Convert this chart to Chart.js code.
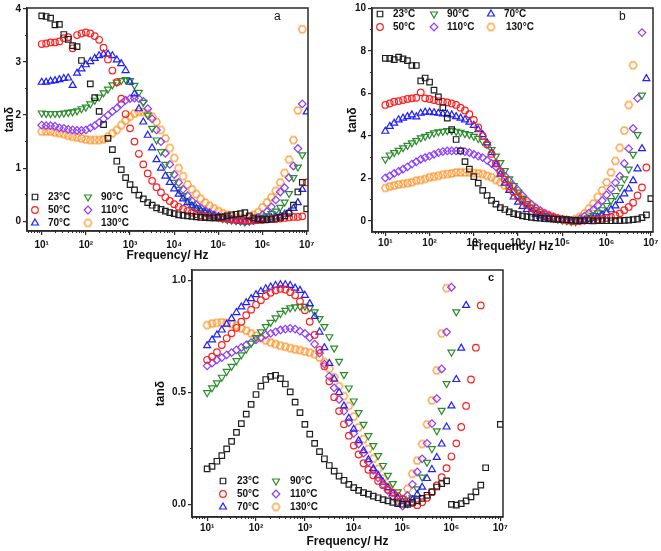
<!DOCTYPE html>
<html>
<head>
<meta charset="utf-8">
<script src="https://cdn.jsdelivr.net/npm/chart.js@4.4.1/dist/chart.umd.min.js"></script>
<style>
  html, body { margin: 0; padding: 0; background: #fff; }
  #wrap { position: relative; width: 661px; height: 551px; overflow: hidden; background: #fff; }
  #wrap canvas { position: absolute; }
</style>
</head>
<body>
<div id="wrap">
  <canvas id="chartA" width="320" height="275" style="left:0;top:0"></canvas>
  <canvas id="chartB" width="331" height="275" style="left:330px;top:0"></canvas>
  <canvas id="chartC" width="380" height="289" style="left:140px;top:262px"></canvas>
</div>
<script>
/* ===== data ===== */
const freq = [
  1.000e1, 1.259e1, 1.585e1, 1.995e1, 2.512e1, 3.162e1, 3.981e1, 5.012e1, 6.310e1, 7.943e1,
  1.000e2, 1.259e2, 1.585e2, 1.995e2, 2.512e2, 3.162e2, 3.981e2, 5.012e2, 6.310e2, 7.943e2,
  1.000e3, 1.259e3, 1.585e3, 1.995e3, 2.512e3, 3.162e3, 3.981e3, 5.012e3, 6.310e3, 7.943e3,
  1.000e4, 1.259e4, 1.585e4, 1.995e4, 2.512e4, 3.162e4, 3.981e4, 5.012e4, 6.310e4, 7.943e4,
  1.000e5, 1.259e5, 1.585e5, 1.995e5, 2.512e5, 3.162e5, 3.981e5, 5.012e5, 6.310e5, 7.943e5,
  1.000e6, 1.259e6, 1.585e6, 1.995e6, 2.512e6, 3.162e6, 3.981e6, 5.012e6, 6.310e6, 7.943e6,
  1.000e7
];
const temps = ['23°C', '50°C', '70°C', '90°C', '110°C', '130°C'];

// panel a
const tanA23 = [3.87,3.86,3.83,3.70,3.71,3.52,3.43,3.31,3.29,3.03, null,2.59,2.33,2.07,1.82,1.56,1.35,1.13,0.97,0.82,
  0.69,0.59,0.49,0.42,0.35,0.30,0.25,0.22,0.19,0.16, 0.14,0.12,0.11,0.10,0.09,0.08,0.07,0.065,0.06,0.06,
  0.07,0.08,0.10,0.12,0.13,0.14,0.16,0.10,0.06,0.04, 0.03,0.03,0.04,0.05,0.07,0.10,0.15,0.30,0.55,0.73, 0.23];
const tanA50 = [3.34,3.35,3.37,3.37,3.39,3.45,3.47,3.26,3.51,3.54, 3.56,3.54,3.49,3.42,3.27,3.05,2.84,2.62,2.31,2.02,
  1.75,1.50,1.27,1.07,0.90,0.76,0.64,0.54,0.45,0.38, 0.32,0.27,0.23,0.19,0.16,0.13,0.11,0.09,0.08,0.07,
  0.06,0.05,0.04,0.03,0.03,0.02,0.02,0.01,0.01,0.02, 0.02,0.03,0.04,0.04,0.05,0.06,0.07,0.08,0.08,0.09, 0.73];
const tanA70 = [2.62,2.62,2.64,2.65,2.67,2.69,2.70,2.56,2.79,2.87, 2.95,3.01,3.07,3.12,3.15,3.15,3.12,3.04,2.97,2.84,
  2.62,2.40,2.12,1.87,1.62,1.38,1.16,1.00,0.85,0.73, 0.61,0.51,0.42,0.35,0.29,0.24,0.20,0.16,0.13,0.10,
  0.08,0.06,0.04,0.02,0.01,0.0,-0.01,-0.01,0.0,0.01, 0.03,0.04,0.06,0.08,0.10,0.13,0.17,0.24,0.35,0.60, 2.06];
const tanA90 = [2.04,2.03,2.03,2.03,2.03,2.04,2.05,2.06,2.08,2.12, 2.15,2.21,2.28,2.34,2.42,2.49,2.57,2.62,2.65,2.67,
  2.65,2.56,2.43,2.24,2.00,1.75,1.53,1.31,1.07,0.88, 0.73,0.60,0.48,0.38,0.31,0.25,0.20,0.16,0.12,0.09,
  0.07,0.05,0.03,0.02,0.01,0.0,-0.01,0.0,0.02,0.04, 0.07,0.10,0.14,0.19,0.26,0.36,0.52,0.82,1.02,1.25, null];
const tanA110 = [1.81,1.80,1.80,1.79,1.76,1.75,1.73,1.72,1.71,1.71, 1.72,1.76,1.80,1.86,1.93,2.00,2.07,2.13,2.21,2.28,
  2.31,2.32,2.31,2.26,2.12,1.93,1.72,1.50,1.28,1.07, 0.88,0.73,0.60,0.48,0.38,0.31,0.25,0.20,0.16,0.12,
  0.09,0.07,0.05,0.03,0.01,0.0,-0.02,0.0,0.03,0.07, 0.12,0.18,0.27,0.40,0.55,0.63,0.82,1.04,1.37,2.21, null];
const tanA130 = [1.69,1.69,1.69,1.67,1.66,1.64,1.61,1.59,1.58,1.56, 1.54,1.53,1.53,1.53,1.54,1.59,1.66,1.72,1.81,1.90,
  1.97,2.03,2.06,2.06,2.03,1.97,1.87,1.72,1.56,1.38, 1.19,1.00,0.85,0.69,0.60,0.51,0.42,0.35,0.29,0.24,
  0.19,0.15,0.12,0.09,0.07,0.05,0.04,0.07,0.12,0.17, 0.26,0.35,0.45,0.57,0.73,0.91,1.16,1.53,2.09,3.62, null];

// panel b
const tanB23 = [7.66,7.66,7.60,7.71,7.63,7.55,7.32,7.32,6.59,6.73, 6.54,6.16,5.84,5.33,4.84,4.30,3.83,3.29,2.79,2.43,
  2.08,1.77,1.43,1.19,0.96,0.78,0.62,0.53,0.42,0.34, 0.29,0.23,0.19,0.16,0.14,0.12,0.10,0.09,0.08,0.07,
  0.06,0.05,0.03,0.02,0.01,0.0,0.0,-0.01,0.0,0.0, 0.0,0.0,0.01,0.01,0.02,0.03,0.05,0.08,0.15,0.28, 1.04];
const tanB50 = [5.46,5.53,5.61,5.64,5.69,5.74,5.77,5.80,6.05,5.77, 5.74,5.69,5.64,5.61,5.58,5.53,5.46,5.33,5.20,5.02,
  4.75,4.40,4.00,3.60,3.15,2.70,2.30,1.95,1.62,1.35, 1.12,0.92,0.75,0.60,0.47,0.37,0.28,0.21,0.15,0.10,
  0.06,0.03,0.01,-0.02,0.0,0.01,0.02,0.04,0.06,0.09, 0.13,0.18,0.25,0.35,0.50,0.65,0.85,1.19,1.57,2.51, null];
const tanB70 = [4.22,4.45,4.60,4.76,4.84,4.91,4.99,4.90,5.07,5.12, 5.12,5.10,5.07,5.04,5.02,4.99,4.91,4.84,4.76,4.65,
  4.50,4.29,4.06,3.67,3.21,2.67,2.20,1.77,1.43,1.12, 0.88,0.68,0.53,0.40,0.30,0.23,0.17,0.12,0.08,0.05,
  0.03,0.01,-0.02,-0.05,-0.02,0.02,0.06,0.11,0.18,0.27, 0.38,0.52,0.70,0.96,1.27,1.50,1.89,2.45,3.40,6.70, null];
const tanB90 = [2.90,3.10,3.21,3.32,3.44,3.55,3.67,3.78,3.91,3.98, 4.06,4.14,4.19,4.22,4.25,4.25,4.22,4.17,4.11,4.06,
  3.98,3.88,3.75,3.60,3.36,3.05,2.74,2.36,1.97,1.66, 1.35,1.04,0.81,0.62,0.46,0.34,0.25,0.17,0.11,0.07,
  0.03,0.0,-0.03,-0.05,0.0,0.06,0.14,0.24,0.37,0.52, 0.72,0.95,1.19,1.58,1.97,2.43,3.13,4.06,5.92,null, null];
const tanB110 = [2.02,2.12,2.23,2.33,2.43,2.54,2.67,2.78,2.90,2.98, 3.05,3.13,3.21,3.26,3.29,3.29,3.29,3.29,3.26,3.21,
  3.13,3.05,2.98,2.85,2.70,2.54,2.36,2.12,1.89,1.66, 1.43,1.19,0.96,0.78,0.62,0.48,0.36,0.26,0.18,0.11,
  0.06,0.02,-0.02,0.0,0.10,0.22,0.36,0.52,0.72,0.95, 1.22,1.50,1.80,2.10,2.70,3.40,4.35,5.77,8.87,null, null];
const tanB130 = [1.55,1.61,1.66,1.71,1.74,1.77,1.81,1.89,1.92,1.97, 2.05,2.08,2.12,2.17,2.20,2.23,2.28,2.28,2.28,2.28,
  2.25,2.23,2.20,2.12,2.05,1.92,1.81,1.66,1.53,1.38, 1.19,1.04,0.88,0.73,0.57,0.45,0.34,0.26,0.19,0.11,
  0.07,0.03,0.0,0.08,0.19,0.34,0.57,0.81,1.12,1.43, 1.81,2.28,2.82,3.44,4.25,5.46,7.33,null,null,null, null];

// panel c
const tanC23 = [0.159,0.170,0.193,0.218,0.248,0.282,0.322,0.361,0.403,0.447, 0.491,0.528,0.558,0.572,0.577,0.562,0.538,0.503,0.457,0.410,
  0.358,0.314,0.273,0.236,0.204,0.174,0.149,0.127,0.108,0.090, 0.075,0.063,0.053,0.046,0.037,0.030,0.022,0.016,0.009,0.004,
  0.001,0.000,0.009,0.016,0.027,0.041,0.056,0.078,0.093,0.105, 0.000,-0.003,0.004,0.016,0.034,0.056,0.086,0.164,null,null, 0.358];
const tanC50 = [0.646,0.660,0.680,0.712,0.742,0.764,0.789,0.816,0.845,0.870, 0.892,0.912,0.931,0.945,0.956,0.963,0.960,0.948,0.934,0.907,
  0.867,0.816,0.757,0.690,0.617,0.550,0.479,0.417,0.358,0.307, 0.263,0.223,0.184,0.155,0.130,0.105,0.086,0.066,0.052,0.037,
  0.025,0.015,0.006,-0.003,0.010,0.030,0.055,0.085,0.122,0.162, 0.214,0.273,0.346,0.440,0.558,0.700,0.889,null,null,null, null];
const tanC70 = [0.709,0.735,0.757,0.779,0.805,0.830,0.857,0.882,0.901,0.919, 0.937,0.951,0.963,0.971,0.978,0.981,0.981,0.978,0.966,0.956,
  0.934,0.897,0.840,0.770,0.700,0.630,0.560,0.500,0.440,0.385, 0.336,0.285,0.240,0.200,0.160,0.130,0.100,0.075,0.050,0.030,
  0.012,0.005,0.020,0.045,0.077,0.116,0.156,0.210,0.270,0.346, 0.440,0.558,0.698,0.889,null,null,null,null,null,null, null];
const tanC90 = [0.499,0.521,0.543,0.568,0.594,0.617,0.642,0.668,0.693,0.720, 0.745,0.771,0.794,0.813,0.833,0.853,0.867,0.878,0.882,0.885,
  0.885,0.878,0.860,0.830,0.794,0.749,0.698,0.639,0.580,0.520, 0.462,0.410,0.358,0.307,0.263,0.218,0.174,0.130,0.093,0.056,
  0.027,0.004,0.030,0.070,0.122,0.188,0.249,0.329,0.420,0.540, 0.680,0.860,null,null,null,null,null,null,null,null, null];
const tanC110 = [0.619,0.631,0.646,0.656,0.668,0.678,0.690,0.701,0.712,0.723, 0.735,0.745,0.757,0.764,0.771,0.779,0.783,0.786,0.783,0.774,
  0.764,0.745,0.716,0.676,0.627,0.572,0.521,0.469,0.417,0.366, 0.317,0.270,0.229,0.189,0.152,0.119,0.090,0.063,0.037,0.012,
  -0.007,0.040,0.090,0.145,0.204,0.273,0.361,0.473,0.605,0.770, 0.970,null,null,null,null,null,null,null,null,null, null];
const tanC130 = [0.801,0.808,0.811,0.813,0.811,0.805,0.798,0.786,0.776,0.764, 0.754,0.742,0.732,0.723,0.716,0.709,0.704,0.698,0.693,0.689,
  0.683,0.678,0.671,0.656,0.636,0.606,0.568,0.528,0.484,0.440, 0.392,0.344,0.292,0.248,0.204,0.159,0.115,0.078,0.052,0.022,
  0.004,0.070,0.137,0.196,0.270,0.358,0.465,0.599,0.764,0.966, null,null,null,null,null,null,null,null,null,null, null];

// axes
const xTicks = [1e1, 1e2, 1e3, 1e4, 1e5, 1e6, 1e7];
const xTickLabels = ['10¹', '10²', '10³', '10⁴', '10⁵', '10⁶', '10⁷'];
const xMinorMult = [2, 3, 4, 5, 6, 7, 8, 9];
const yTicksA = [0, 1, 2, 3, 4];
const yTicksB = [0, 2, 4, 6, 8, 10];
const yTicksC = [0, 0.5, 1.0];
const yMinorA = [0.5, 1.5, 2.5, 3.5];
const yMinorB = [1, 3, 5, 7, 9];
const yMinorC = [0.25, 0.75];

/* ===== styles ===== */
const FONT = '"Liberation Sans", Arial, sans-serif';
const INK = '#2b2b2b';
const FRAME_W = 1.5;
const MARK_W = 1.2;
const COLORS = ['#1e1e1e', '#ff1f1f', '#1f1fff', '#2a8c2a', '#8c3cff', '#ff9326'];

function hexMarker(color, r) {
  const c = document.createElement('canvas');
  const s = Math.ceil(r * 2 + 3);
  c.width = c.height = s;
  const g = c.getContext('2d');
  g.strokeStyle = color; g.lineWidth = MARK_W;
  g.beginPath();
  for (let i = 0; i < 6; i++) {
    const a = Math.PI / 3 * i;
    const px = s / 2 + r * Math.cos(a), py = s / 2 + r * Math.sin(a);
    i ? g.lineTo(px, py) : g.moveTo(px, py);
  }
  g.closePath(); g.stroke();
  return c;
}
const HEX = hexMarker(COLORS[5], 3.8);

// marker per temperature: [pointStyle, radius, rotation]
const MARKS = [
  ['rect', 3.9, 0],
  ['circle', 3.3, 0],
  ['triangle', 4.0, 0],
  ['triangle', 4.0, 180],
  ['rectRot', 3.8, 0],
  [HEX, 3.8, 0]
];

function dataset(i, vals) {
  const pts = [];
  vals.forEach((v, k) => { if (v !== null) pts.push({ x: freq[k], y: v }); });
  return {
    label: temps[i],
    data: pts,
    showLine: false,
    pointStyle: MARKS[i][0],
    pointRadius: MARKS[i][1],
    rotation: MARKS[i][2],
    pointBorderWidth: MARK_W,
    borderColor: COLORS[i],
    backgroundColor: 'rgba(0,0,0,0)',
    pointBackgroundColor: 'rgba(0,0,0,0)',
    pointBorderColor: COLORS[i]
  };
}

function drawMark(ctx, i, x, y) {
  const [style, r, rot] = MARKS[i];
  if (typeof style !== 'string') {
    ctx.drawImage(style, x - style.width / 2, y - style.height / 2);
    return;
  }
  ctx.save();
  ctx.strokeStyle = COLORS[i];
  ctx.fillStyle = 'rgba(0,0,0,0)';
  ctx.lineWidth = MARK_W;
  Chart.helpers.drawPoint(ctx, { pointStyle: style, radius: r, rotation: rot, borderWidth: MARK_W }, x, y);
  ctx.restore();
}

/* ===== frame, legend, panel letter ===== */
const decor = {
  id: 'decor',
  afterDraw(chart, args, o) {
    const ctx = chart.ctx;
    const a = chart.chartArea;
    ctx.save();
    ctx.strokeStyle = INK;
    ctx.lineWidth = FRAME_W;
    ctx.beginPath();
    ctx.rect(a.left, a.top, a.right - a.left, a.bottom - a.top);
    ctx.stroke();

    ctx.textBaseline = 'middle';
    ctx.font = 'bold 10px ' + FONT;
    o.legend.forEach(([i, mx, tx, y]) => {
      drawMark(ctx, i, mx, y);
      ctx.fillStyle = '#111';
      ctx.fillText(temps[i], tx, y);
    });
    ctx.fillStyle = '#111';
    ctx.font = o.letterFont + ' ' + FONT;
    ctx.fillText(o.letter, o.letterX, o.letterY);
    ctx.restore();
  }
};

function makeChart(id, p) {
  const xMinor = [];
  xTicks.forEach(d => xMinorMult.forEach(m => {
    const v = d / 10 * m;
    if (v > p.xMin && v < p.xMax) xMinor.push(v);
  }));
  return new Chart(document.getElementById(id), {
    type: 'scatter',
    data: { datasets: p.series.map((s, i) => dataset(i, s)) },
    options: {
      responsive: false,
      animation: false,
      devicePixelRatio: 1,
      layout: { padding: { top: p.padTop, right: p.padRight, left: 0, bottom: 0 } },
      plugins: {
        legend: { display: false },
        tooltip: { enabled: false },
        decor: p.decor
      },
      scales: {
        x: {
          type: 'logarithmic', weight: 1,
          min: p.xMin, max: p.xMax,
          border: { display: true, color: INK, width: FRAME_W },
          grid: { drawOnChartArea: false, tickLength: 4, color: INK, lineWidth: 1.2 },
          ticks: {
            color: '#111', font: { family: FONT, size: 10, weight: 'bold' },
            padding: p.xTickPad, maxRotation: 0, minRotation: 0, autoSkip: false,
            callback: (v, i) => xTickLabels[i]
          },
          afterBuildTicks: s => { s.ticks = xTicks.map(v => ({ value: v })); },
          afterFit: s => { s.height = p.xH; },
          title: {
            display: true, text: 'Frequency/ Hz', color: '#111',
            font: { family: FONT, size: 12, weight: 'bold' },
            padding: { top: 0, bottom: p.xTitlePad }
          }
        },
        xm: {
          type: 'logarithmic', position: 'bottom', weight: 0,
          min: p.xMin, max: p.xMax,
          border: { display: false },
          grid: { drawOnChartArea: false, tickLength: 2, color: INK, lineWidth: 1 },
          ticks: { display: false },
          afterBuildTicks: s => { s.ticks = xMinor.map(v => ({ value: v })); },
          afterFit: s => { s.height = 0; }
        },
        y: {
          type: 'linear', weight: 1,
          min: p.yMin, max: p.yMax,
          border: { display: true, color: INK, width: FRAME_W },
          grid: { drawOnChartArea: false, tickLength: 4, color: INK, lineWidth: 1.2 },
          ticks: {
            color: '#111', font: { family: FONT, size: 10, weight: 'bold' },
            padding: 2,
            callback: v => p.yFmt(v)
          },
          afterBuildTicks: s => { s.ticks = p.yTicks.map(v => ({ value: v })); },
          afterFit: s => { s.width = p.yW; },
          title: {
            display: true, text: 'tanδ', color: '#111',
            font: { family: FONT, size: 12, weight: 'bold' },
            padding: { top: p.yTitlePad, bottom: 0 }
          }
        },
        ym: {
          type: 'linear', position: 'left', weight: 0,
          min: p.yMin, max: p.yMax,
          border: { display: false },
          grid: { drawOnChartArea: false, tickLength: 2, color: INK, lineWidth: 1 },
          ticks: { display: false },
          afterBuildTicks: s => { s.ticks = p.yMinor.map(v => ({ value: v })); },
          afterFit: s => { s.width = 0; }
        }
      }
    },
    plugins: [decor]
  });
}

makeChart('chartA', {
  series: [tanA23, tanA50, tanA70, tanA90, tanA110, tanA130],
  padTop: 5, padRight: 12, yW: 27, xH: 44, xTickPad: 4, xTitlePad: 12, yTitlePad: 2,
  xMin: 4.64, xMax: 1.07e7, yMin: -0.186, yMax: 4.02, yTicks: yTicksA, yMinor: yMinorA, yFmt: v => String(v),
  decor: {
    legend: [[0, 35, 48, 197], [1, 35, 48, 210], [2, 35, 48, 223],
             [3, 88, 101, 197], [4, 88, 101, 210], [5, 88, 101, 223]],
    letter: 'a', letterX: 274, letterY: 17, letterFont: '12px'
  }
});

makeChart('chartB', {
  series: [tanB23, tanB50, tanB70, tanB90, tanB110, tanB130],
  padTop: 5, padRight: 8, yW: 42, xH: 43, xTickPad: 1, xTitlePad: 21, yTitlePad: 15,
  xMin: 5.0, xMax: 1.12e7, yMin: -0.53, yMax: 10.03, yTicks: yTicksB, yMinor: yMinorB, yFmt: v => String(v),
  decor: {
    legend: [[0, 50, 63, 14], [3, 104, 117, 14], [2, 161, 174, 14],
             [1, 50, 63, 27], [4, 104, 117, 27], [5, 161, 176, 27]],
    letter: 'b', letterX: 289, letterY: 17, letterFont: '12px'
  }
});

makeChart('chartC', {
  series: [tanC23, tanC50, tanC70, tanC90, tanC110, tanC130],
  padTop: 6, padRight: 17, yW: 52, xH: 34, xTickPad: 1, xTitlePad: 2, yTitlePad: 13,
  xMin: 4.9, xMax: 1.135e7, yMin: -0.056, yMax: 1.047, yTicks: yTicksC, yMinor: yMinorC, yFmt: v => v.toFixed(1),
  decor: {
    legend: [[0, 83, 97, 219], [1, 83, 97, 232], [2, 83, 97, 245],
             [3, 136, 150, 219], [4, 136, 150, 232], [5, 136, 150, 245]],
    letter: 'c', letterX: 348, letterY: 16, letterFont: 'bold 11px'
  }
});
</script>
</body>
</html>
